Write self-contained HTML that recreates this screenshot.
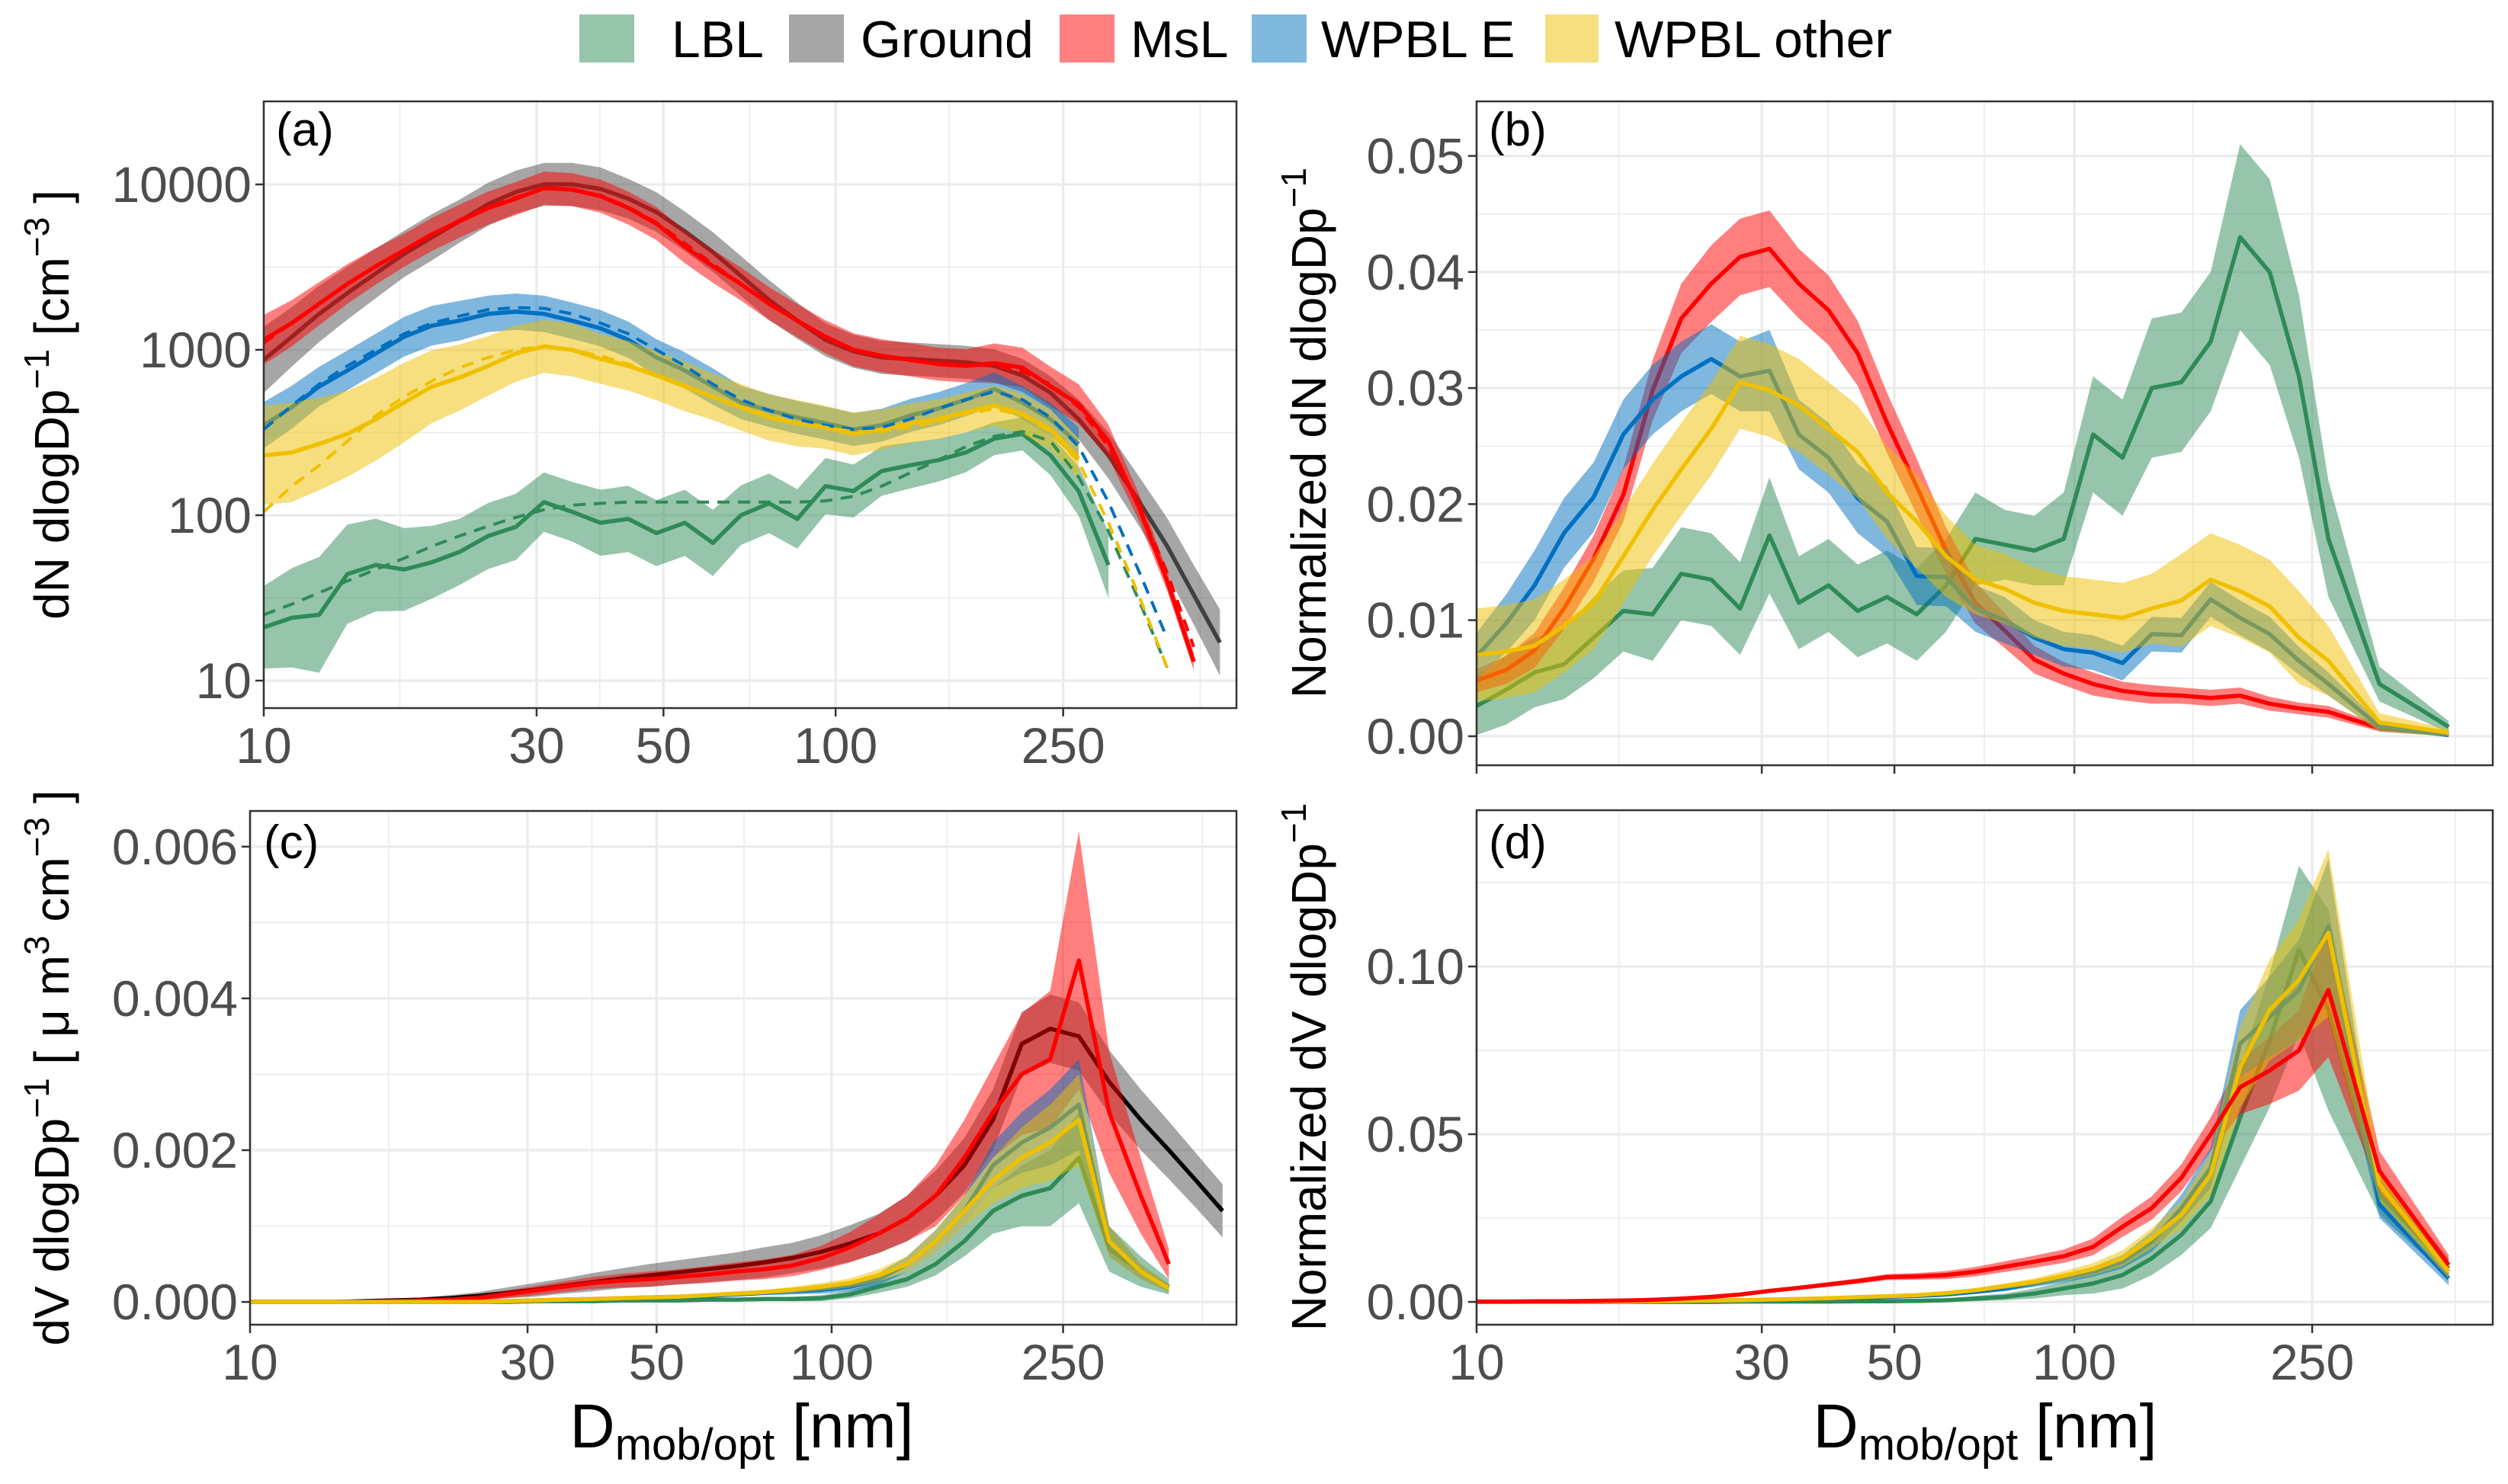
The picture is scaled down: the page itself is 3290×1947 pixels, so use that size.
<!DOCTYPE html>
<html><head><meta charset="utf-8"><style>
html,body{margin:0;padding:0;background:#fff}
svg{display:block;font-family:"Liberation Sans",Arial,sans-serif}
</style></head><body>
<svg id="fig" xmlns="http://www.w3.org/2000/svg" width="3290" height="1947" viewBox="0 0 3290 1947">
<rect x="0" y="0" width="3290" height="1947" fill="#fff"/>
<defs>
<clipPath id="clipA"><rect x="346" y="133" width="1276" height="796"/></clipPath>
<clipPath id="clipB"><rect x="1937" y="133" width="1333" height="871"/></clipPath>
<clipPath id="clipC"><rect x="328" y="1064" width="1294" height="674"/></clipPath>
<clipPath id="clipD"><rect x="1937" y="1063" width="1333" height="675"/></clipPath>
</defs>
<g id="legend" font-size="68">
<rect x="760" y="19" width="72" height="63" fill="#96c5ab"/>
<text x="881" y="75">LBL</text>
<rect x="1035" y="19" width="72" height="63" fill="#a6a6a6"/>
<text x="1129" y="75">Ground</text>
<rect x="1390" y="19" width="72" height="63" fill="#ff8080"/>
<text x="1483" y="75">MsL</text>
<rect x="1642" y="19" width="72" height="63" fill="#80b8de"/>
<text x="1733" y="75">WPBL E</text>
<rect x="2027" y="19" width="70" height="63" fill="#f7df80"/>
<text x="2118" y="75">WPBL other</text>
</g>
<g id="layer"></g>
<g font-size="64" fill="#000">
<text transform="translate(90,531) rotate(-90)" text-anchor="middle">dN dlogDp<tspan dy="-26" font-size="46">−1</tspan><tspan dy="26"> [cm</tspan><tspan dy="-26" font-size="46">−3</tspan><tspan dy="26"> ]</tspan></text>
<text transform="translate(90,1401) rotate(-90)" text-anchor="middle">dV dlogDp<tspan dy="-26" font-size="46">−1</tspan><tspan dy="26"> [ μ m</tspan><tspan dy="-26" font-size="46">3</tspan><tspan dy="26">  cm</tspan><tspan dy="-26" font-size="46">−3</tspan><tspan dy="26"> ]</tspan></text>
<text transform="translate(1739,568) rotate(-90)" text-anchor="middle">Normalized dN dlogDp<tspan dy="-26" font-size="46">−1</tspan></text>
<text transform="translate(1739,1400) rotate(-90)" text-anchor="middle">Normalized dV dlogDp<tspan dy="-26" font-size="46">−1</tspan></text>
<text x="973" y="1899" text-anchor="middle" font-size="82">D<tspan dy="16" font-size="58">mob/opt</tspan><tspan dy="-16"> [nm]</tspan></text>
<text x="2604" y="1899" text-anchor="middle" font-size="82">D<tspan dy="16" font-size="58">mob/opt</tspan><tspan dy="-16"> [nm]</tspan></text>
<text x="362" y="191" font-size="62">(a)</text>
<text x="1953" y="191" font-size="62">(b)</text>
<text x="346" y="1126" font-size="62">(c)</text>
<text x="1953" y="1126" font-size="62">(d)</text>
</g>
</svg>
<script>
const xTicks=[10,30,50,100,250];
const xTickLabels=["10","30","50","100","250"];
const xMinor=[17.3,38.7,70.7,158,434];
const aYTicks=[10,100,1000,10000];
const aYLabels=["10","100","1000","10000"];
const aYMinor=[31.6,316,3162];
const bYTicks=[0,0.01,0.02,0.03,0.04,0.05];
const bYLabels=["0.00","0.01","0.02","0.03","0.04","0.05"];
const bYMinor=[0.005,0.015,0.025,0.035,0.045];
const cYTicks=[0,0.002,0.004,0.006];
const cYLabels=["0.000","0.002","0.004","0.006"];
const cYMinor=[0.001,0.003,0.005];
const dYTicks=[0,0.05,0.10];
const dYLabels=["0.00","0.05","0.10"];
const dYMinor=[0.025,0.075,0.125];

const D_A=[10,11.2,12.5,14,15.7,17.6,19.7,22,24.7,27.6,30.9,34.6,38.8,43.4,48.6,54.5,61,68.3,76.5,85.7,96,107.5,120.4,134.8,151,169.1,189.4,212.2,237.6,266.1,300,340,380,423,470];
const D_B=[10,11.2,12.5,14,15.7,17.6,19.7,22,24.7,27.6,30.9,34.6,38.8,43.4,48.6,54.5,61,68.3,76.5,85.7,96,107.5,120.4,134.8,151,169.1,189.4,212.2,237.6,266.1,324,423];

// panel a (dN, log)
const aLBL=[21,24,25,44,50,47,52,60,75,85,120,105,90,95,78,90,68,100,118,95,150,140,185,200,215,240,290,310,230,140,50,null,null,null,null];
const aLBLs=[0.25,0.3,0.35,0.3,0.28,0.25,0.22,0.2,0.2,0.2,0.18,0.18,0.2,0.2,0.2,0.2,0.2,0.18,0.18,0.18,0.17,0.16,0.15,0.14,0.13,0.12,0.1,0.1,0.12,0.15,0.2,null,null,null,null];
const aLBLfit=[25,29,34,40,47,55,65,75,86,97,108,115,118,120,120,120,120,120,120,120,122,130,150,180,215,260,300,320,280,170,80,30,12,null,null];
const aGround=[870,1200,1650,2200,2900,3800,4800,6000,7600,9000,10000,10000,9400,8200,6800,5200,3900,2800,2000,1500,1150,980,900,880,860,840,800,700,550,380,230,120,65,33,17];
const aGrounds=[0.2,0.18,0.17,0.16,0.15,0.14,0.14,0.13,0.13,0.13,0.13,0.13,0.13,0.12,0.12,0.12,0.12,0.12,0.12,0.11,0.1,0.1,0.1,0.1,0.1,0.1,0.1,0.1,0.1,0.12,0.14,0.15,0.17,0.18,0.2];
const aMsL=[1150,1450,1900,2500,3200,4000,5000,6000,7200,8200,9500,9300,8500,7200,5800,4200,3200,2500,1900,1500,1200,1000,920,870,820,800,830,780,600,470,280,110,40,13,null];
const aMsLs=[0.15,0.14,0.13,0.12,0.11,0.1,0.1,0.1,0.1,0.1,0.1,0.1,0.1,0.1,0.1,0.1,0.1,0.1,0.1,0.1,0.1,0.1,0.1,0.1,0.1,0.1,0.12,0.12,0.12,0.12,0.1,0.08,0.06,0.05,null];
const aMsLfit=[1100,1450,1900,2500,3200,4000,5000,6100,7300,8400,9400,9400,8600,7300,5900,4400,3300,2500,1900,1500,1200,1000,920,870,830,810,800,740,620,450,260,110,45,16,null];
const aWE=[350,450,600,750,950,1200,1400,1500,1650,1700,1650,1500,1350,1150,900,750,600,480,430,390,360,330,350,400,440,500,580,480,380,270,null,null,null,null,null];
const aWEs=[0.14,0.13,0.12,0.12,0.12,0.12,0.12,0.12,0.11,0.11,0.11,0.11,0.11,0.11,0.11,0.11,0.11,0.1,0.1,0.1,0.1,0.1,0.1,0.1,0.1,0.1,0.1,0.1,0.1,0.1,null,null,null,null,null];
const aWEfit=[330,460,620,800,1000,1250,1450,1600,1750,1800,1780,1650,1450,1250,1000,800,620,500,430,380,350,330,340,380,440,500,560,500,390,260,120,45,18,null,null];
const aWO=[230,240,270,310,380,480,600,680,800,950,1050,1000,880,800,700,600,520,450,390,360,340,310,330,360,380,420,460,410,330,220,null,null,null,null,null];
const aWOs=[0.3,0.3,0.28,0.26,0.25,0.24,0.22,0.2,0.18,0.17,0.16,0.16,0.15,0.15,0.15,0.15,0.14,0.14,0.14,0.14,0.13,0.13,0.12,0.12,0.12,0.12,0.12,0.12,0.12,0.12,null,null,null,null,null];
const aWOfit=[105,150,200,280,400,520,650,780,900,1000,1050,1000,920,820,710,610,520,450,400,360,340,320,320,340,370,410,440,400,320,210,90,32,12,null,null];

// panel c (dV)
const cLBL=[0,0,0,0,0,0,0,0,0,0,0.00001,0.00001,0.00001,0.00002,0.00002,0.00002,0.00003,0.00003,0.00004,0.00004,0.00005,0.0001,0.0002,0.0003,0.0005,0.0008,0.0012,0.0014,0.0015,0.0019,0.0007,0.0004,0.0002,null,null];
const cLBLs=[0,0,0,0,0,0,0,0,0,0,0,0,0,0,0,0,0,0,0.00002,0.00003,0.00004,0.00005,0.00008,0.0001,0.00015,0.0002,0.0003,0.0004,0.0005,0.0006,0.0003,0.0002,0.0001,null,null];
const cGround=[0,0,0,0,0.00001,0.00002,0.00003,0.00005,0.00008,0.00012,0.00016,0.00021,0.00026,0.00031,0.00035,0.00039,0.00043,0.00047,0.00052,0.00058,0.00066,0.00077,0.0009,0.0011,0.0014,0.0018,0.0024,0.0034,0.0036,0.0035,0.0029,0.0024,0.002,0.0016,0.0012];
const cGrounds=[0,0,0,0,0.00001,0.00002,0.00003,0.00004,0.00005,0.00007,0.00009,0.0001,0.00012,0.00013,0.00015,0.00016,0.00017,0.00018,0.0002,0.0002,0.00022,0.00024,0.00026,0.0003,0.00033,0.00036,0.0004,0.00042,0.00045,0.00045,0.00042,0.0004,0.00038,0.00036,0.00035];
const cMsL=[0,0,0,0,0,0.00001,0.00002,0.00003,0.00005,0.0001,0.00015,0.0002,0.00025,0.00028,0.0003,0.00033,0.00036,0.0004,0.00043,0.00048,0.00058,0.00072,0.0009,0.0011,0.0014,0.0019,0.0025,0.003,0.0032,0.0045,0.0025,0.0014,0.0005,null,null];
const cMsLs=[0,0,0,0,0,0.00001,0.00002,0.00003,0.00004,0.00005,0.00006,0.00007,0.00008,0.00009,0.0001,0.0001,0.00011,0.00012,0.00013,0.00014,0.00016,0.0002,0.00025,0.0003,0.0004,0.0005,0.0006,0.0008,0.0009,0.0017,0.0008,0.0005,0.0002,null,null];
const cWE=[0,0,0,0,0,0,0,0,0,0.00001,0.00002,0.00003,0.00004,0.00005,0.00006,0.00007,0.00008,0.0001,0.00012,0.00014,0.00016,0.0002,0.0003,0.0005,0.0008,0.0012,0.0018,0.0021,0.0023,0.0026,0.0008,0.0004,0.00018,null,null];
const cWEs=[0,0,0,0,0,0,0,0,0,0,0,0.00001,0.00001,0.00001,0.00002,0.00002,0.00002,0.00003,0.00003,0.00004,0.00005,0.00006,0.00008,0.0001,0.00015,0.0002,0.0003,0.0004,0.0005,0.0006,0.0002,0.0001,0.00005,null,null];
const cWO=[0,0,0,0,0,0,0,0,0,0.00001,0.00002,0.00003,0.00004,0.00005,0.00006,0.00007,0.00009,0.00011,0.00013,0.00016,0.0002,0.00025,0.00035,0.0005,0.0008,0.0012,0.0016,0.0019,0.0021,0.0024,0.0008,0.0004,0.00018,null,null];
const cWOs=[0,0,0,0,0,0,0,0,0,0,0,0.00001,0.00001,0.00001,0.00002,0.00002,0.00002,0.00003,0.00003,0.00004,0.00005,0.00006,0.00008,0.0001,0.00015,0.0002,0.0003,0.0004,0.0005,0.0006,0.0002,0.0001,0.00005,null,null];

// panel b (normalized dN)
const bLBL=[0.0026,0.004,0.0055,0.0062,0.0085,0.0108,0.0105,0.014,0.0135,0.011,0.0173,0.0115,0.013,0.0108,0.012,0.0105,0.013,0.017,0.0165,0.016,0.017,0.026,0.024,0.030,0.0305,0.034,0.043,0.040,0.031,0.017,0.0045,0.0008];
const bLBLs=[0.0025,0.003,0.003,0.003,0.0035,0.0035,0.004,0.004,0.004,0.004,0.005,0.004,0.004,0.004,0.004,0.004,0.004,0.004,0.003,0.003,0.004,0.005,0.005,0.006,0.006,0.006,0.008,0.008,0.007,0.005,0.0015,0.0005];
const bMsL=[0.0048,0.0057,0.0074,0.011,0.0153,0.0208,0.0298,0.036,0.039,0.0413,0.042,0.039,0.0367,0.033,0.027,0.0215,0.016,0.0115,0.0091,0.0066,0.0054,0.0045,0.0039,0.0036,0.0035,0.0033,0.0035,0.0028,0.0024,0.0021,0.0007,0.0002];
const bMsLs=[0.001,0.0012,0.0015,0.0018,0.002,0.0023,0.0026,0.003,0.0033,0.0033,0.0033,0.003,0.003,0.0028,0.0026,0.0024,0.002,0.0018,0.0015,0.0012,0.001,0.001,0.0008,0.0008,0.0007,0.0007,0.0007,0.0006,0.0005,0.0005,0.0003,0.0002];
const bWE=[0.0069,0.0097,0.013,0.0175,0.0206,0.026,0.029,0.031,0.0325,0.031,0.0315,0.026,0.024,0.0205,0.0185,0.0138,0.0137,0.011,0.01,0.0085,0.0075,0.0072,0.0063,0.0088,0.0087,0.0118,0.0102,0.0088,0.0065,0.0045,0.0008,0.0001];
const bWEs=[0.002,0.0025,0.003,0.003,0.003,0.003,0.003,0.003,0.003,0.003,0.0035,0.003,0.003,0.003,0.003,0.0025,0.0025,0.002,0.002,0.0015,0.0015,0.0015,0.0015,0.0015,0.0015,0.0015,0.0015,0.0015,0.0012,0.001,0.0004,0.0001];
const bWO=[0.007,0.0073,0.0078,0.0095,0.0115,0.0155,0.0195,0.023,0.0265,0.0305,0.0298,0.0285,0.0265,0.0245,0.021,0.0185,0.0155,0.0135,0.0127,0.0115,0.0108,0.0105,0.0102,0.011,0.0117,0.0135,0.0125,0.0112,0.0085,0.0065,0.0012,0.0003];
const bWOs=[0.004,0.004,0.004,0.004,0.004,0.004,0.004,0.004,0.004,0.004,0.004,0.004,0.004,0.004,0.004,0.004,0.0035,0.003,0.003,0.003,0.003,0.003,0.003,0.003,0.004,0.004,0.004,0.004,0.004,0.003,0.0008,0.0003];

// panel d (normalized dV)
const dLBL=[0,0,0,0,0,0,0,0,0,0.0001,0.0001,0.0001,0.0001,0.0002,0.0002,0.0003,0.0005,0.001,0.0015,0.0025,0.004,0.0055,0.008,0.013,0.02,0.03,0.055,0.078,0.105,0.087,0.032,0.01];
const dLBLs=[0,0,0,0,0,0,0,0,0,0,0,0,0.0001,0.0001,0.0002,0.0003,0.0005,0.0008,0.001,0.0015,0.002,0.003,0.004,0.005,0.006,0.008,0.015,0.02,0.025,0.03,0.006,0.003];
const dMsL=[0.0001,0.0001,0.0002,0.0002,0.0003,0.0004,0.0006,0.001,0.0015,0.0022,0.0033,0.0042,0.0052,0.0062,0.0074,0.0076,0.008,0.009,0.0105,0.012,0.0136,0.0164,0.0224,0.028,0.037,0.05,0.064,0.069,0.075,0.093,0.039,0.011];
const dMsLs=[0,0,0,0,0,0.0001,0.0001,0.0002,0.0003,0.0004,0.0005,0.0006,0.0007,0.0008,0.0009,0.001,0.0012,0.0014,0.0016,0.0018,0.002,0.0025,0.003,0.0035,0.004,0.005,0.008,0.01,0.012,0.02,0.006,0.003];
const dWE=[0,0,0,0,0.0001,0.0001,0.0002,0.0003,0.0004,0.0005,0.0006,0.0008,0.001,0.0012,0.0015,0.0018,0.0022,0.003,0.004,0.0055,0.007,0.009,0.012,0.018,0.028,0.04,0.077,0.085,0.093,0.112,0.029,0.007];
const dWEs=[0,0,0,0,0,0,0,0.0001,0.0001,0.0001,0.0001,0.0002,0.0002,0.0003,0.0003,0.0004,0.0005,0.0006,0.0008,0.001,0.0012,0.0015,0.002,0.003,0.004,0.006,0.01,0.012,0.015,0.02,0.004,0.002];
const dWO=[0,0,0,0,0.0001,0.0001,0.0002,0.0003,0.0004,0.0005,0.0007,0.0009,0.0011,0.0014,0.0017,0.002,0.0026,0.0035,0.0047,0.006,0.0078,0.0098,0.013,0.019,0.026,0.038,0.07,0.087,0.096,0.11,0.035,0.009];
const dWOs=[0,0,0,0,0,0,0,0.0001,0.0001,0.0001,0.0001,0.0002,0.0002,0.0003,0.0003,0.0004,0.0005,0.0006,0.0008,0.001,0.0014,0.0018,0.0024,0.003,0.004,0.006,0.012,0.015,0.018,0.025,0.005,0.002];

const NS="http://www.w3.org/2000/svg";
const layer=document.getElementById('layer');
function mk(tag,attrs,parent){const e=document.createElementNS(NS,tag);for(const k in attrs)e.setAttribute(k,attrs[k]);(parent||layer).appendChild(e);return e;}

const panels={
 a:{x0:346,x1:1622,y0:133,y1:929,xl:[1,2.701],yd:[4.502,0.834],log:true,clip:'clipA',labels:true},
 b:{x0:1937,x1:3270,y0:133,y1:1004,xl:[1,2.70],yd:[0.0547,-0.0025],log:false,clip:'clipB',labels:false},
 c:{x0:328,x1:1622,y0:1064,y1:1738,xl:[1,2.696],yd:[0.00647,-0.0003],log:false,clip:'clipC',labels:true},
 d:{x0:1937,x1:3270,y0:1063,y1:1738,xl:[1,2.70],yd:[0.1466,-0.0068],log:false,clip:'clipD',labels:true}
};
function sx(p,d){return p.x0+(Math.log10(d)-p.xl[0])/(p.xl[1]-p.xl[0])*(p.x1-p.x0);}
function syRaw(p,t){return p.y0+(p.yd[0]-t)/(p.yd[0]-p.yd[1])*(p.y1-p.y0);}
function sy(p,v){return syRaw(p,p.log?Math.log10(v):v);}

function drawAxes(key,yt,yl,ym){
 const p=panels[key];
 const g=mk('g',{});
 
 
 xMinor.forEach(d=>{const x=sx(p,d);if(x<p.x1){const l=mk('line',{x1:x,x2:x,y1:p.y0,y2:p.y1,stroke:'#ebebeb','stroke-width':1.6},g);
 
 }});
 ym.forEach(v=>{const y=sy(p,v);if(y>p.y0){const l=mk('line',{x1:p.x0,x2:p.x1,y1:y,y2:y,stroke:'#ebebeb','stroke-width':1.6},g);
 
 }});
 xTicks.forEach((d,i)=>{const x=sx(p,d);const l=mk('line',{x1:x,x2:x,y1:p.y0,y2:p.y1,stroke:'#ebebeb','stroke-width':3.2},g);
 
 
 const t=mk('line',{x1:x,x2:x,y1:p.y1,y2:p.y1+11,stroke:'#333','stroke-width':2.5});
 
 
 if(p.labels){const tx=mk('text',{x:x,y:p.y1+72,'text-anchor':'middle','font-size':66,fill:'#4d4d4d'});tx.textContent=xTickLabels[i];
 
 }});
 yt.forEach((v,i)=>{const y=sy(p,v);const l=mk('line',{x1:p.x0,x2:p.x1,y1:y,y2:y,stroke:'#ebebeb','stroke-width':3.2},g);
 
 
 const t=mk('line',{x1:p.x0-11,x2:p.x0,y1:y,y2:y,stroke:'#333','stroke-width':2.5});
 
 
 const tx=mk('text',{x:p.x0-16,y:y+23,'text-anchor':'end','font-size':66,fill:'#4d4d4d'});tx.textContent=yl[i];
 
 });
}
function segs(xs,ys){const out=[];let cur=[];xs.forEach((x,i)=>{if(ys[i]==null){if(cur.length)out.push(cur);cur=[];}else cur.push(i);});if(cur.length)out.push(cur);return out;}
function band(key,xs,ys,sp,color,name){
 const p=panels[key];
 segs(xs,ys).forEach(s=>{
  const up=s.map(i=>{const t=(p.log?Math.log10(ys[i]):ys[i])+sp[i];return sx(p,xs[i]).toFixed(1)+','+syRaw(p,t).toFixed(1);});
  const lo=s.slice().reverse().map(i=>{const t=(p.log?Math.log10(ys[i]):ys[i])-sp[i];return sx(p,xs[i]).toFixed(1)+','+syRaw(p,t).toFixed(1);});
  const e=mk('polygon',{points:up.concat(lo).join(' '),fill:color,'fill-opacity':0.5,'clip-path':'url(#'+p.clip+')'});
  
  
 });
}
function line(key,xs,ys,color,name,dash){
 const p=panels[key];
 segs(xs,ys).forEach(s=>{
  const pts=s.map(i=>sx(p,xs[i]).toFixed(1)+','+sy(p,ys[i]).toFixed(1)).join(' ');
  const at={points:pts,fill:'none',stroke:color,'stroke-width':dash?4:5.5,'stroke-linejoin':'round','clip-path':'url(#'+p.clip+')'};
  if(dash)at['stroke-dasharray']='16,11';
  const e=mk('polyline',at);
  
  
 });
}
function border(key){const p=panels[key];const e=mk('rect',{x:p.x0,y:p.y0,width:p.x1-p.x0,height:p.y1-p.y0,fill:'none',stroke:'#333','stroke-width':2.5});
 
 }

const C={lbl:'#2e8b57',gr:'#4d4d4d',msl:'#ff0000',we:'#0070c0',wo:'#efc000'};

drawAxes('a',aYTicks,aYLabels,aYMinor);
drawAxes('b',bYTicks,bYLabels,bYMinor);
drawAxes('c',cYTicks,cYLabels,cYMinor);
drawAxes('d',dYTicks,dYLabels,dYMinor);

// panel a
band('a',D_A,aLBL,aLBLs,C.lbl,'a-lbl');line('a',D_A,aLBL,C.lbl,'a-lbl');
band('a',D_A,aGround,aGrounds,C.gr,'a-ground');line('a',D_A,aGround,'#404040','a-ground');
band('a',D_A,aMsL,aMsLs,C.msl,'a-msl');line('a',D_A,aMsL,C.msl,'a-msl');
band('a',D_A,aWE,aWEs,C.we,'a-wpbl-e');line('a',D_A,aWE,C.we,'a-wpbl-e');
band('a',D_A,aWO,aWOs,C.wo,'a-wpbl-other');line('a',D_A,aWO,C.wo,'a-wpbl-other');
line('a',D_A,aLBLfit,C.lbl,'a-lbl',true);
line('a',D_A,aMsLfit,C.msl,'a-msl',true);
line('a',D_A,aWEfit,C.we,'a-wpbl-e',true);
line('a',D_A,aWOfit,C.wo,'a-wpbl-other',true);
// panel b
band('b',D_B,bLBL,bLBLs,C.lbl,'b-lbl');line('b',D_B,bLBL,C.lbl,'b-lbl');
band('b',D_B,bMsL,bMsLs,C.msl,'b-msl');line('b',D_B,bMsL,C.msl,'b-msl');
band('b',D_B,bWE,bWEs,C.we,'b-wpbl-e');line('b',D_B,bWE,C.we,'b-wpbl-e');
band('b',D_B,bWO,bWOs,C.wo,'b-wpbl-other');line('b',D_B,bWO,C.wo,'b-wpbl-other');
// panel c
band('c',D_A,cLBL,cLBLs,C.lbl,'c-lbl');line('c',D_A,cLBL,C.lbl,'c-lbl');
band('c',D_A,cGround,cGrounds,C.gr,'c-ground');line('c',D_A,cGround,'#000','c-ground');
band('c',D_A,cMsL,cMsLs,C.msl,'c-msl');line('c',D_A,cMsL,C.msl,'c-msl');
band('c',D_A,cWE,cWEs,C.we,'c-wpbl-e');line('c',D_A,cWE,C.we,'c-wpbl-e');
band('c',D_A,cWO,cWOs,C.wo,'c-wpbl-other');line('c',D_A,cWO,C.wo,'c-wpbl-other');
// panel d
band('d',D_B,dLBL,dLBLs,C.lbl,'d-lbl');line('d',D_B,dLBL,C.lbl,'d-lbl');
band('d',D_B,dMsL,dMsLs,C.msl,'d-msl');
band('d',D_B,dWE,dWEs,C.we,'d-wpbl-e');line('d',D_B,dWE,C.we,'d-wpbl-e');
band('d',D_B,dWO,dWOs,C.wo,'d-wpbl-other');line('d',D_B,dWO,C.wo,'d-wpbl-other');
line('d',D_B,dMsL,C.msl,'d-msl');

['a','b','c','d'].forEach(border);
</script>
</body></html>
